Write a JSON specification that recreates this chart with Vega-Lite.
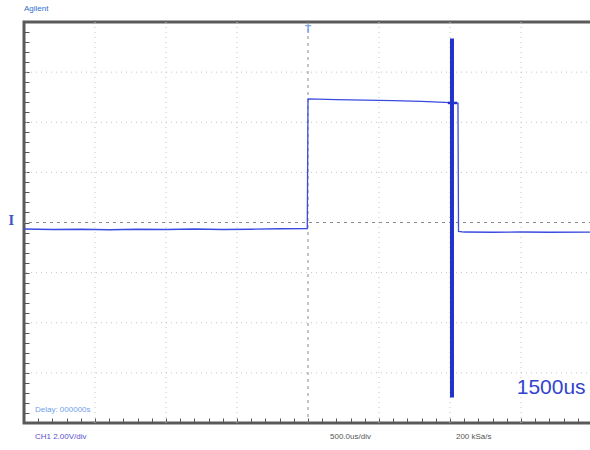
{
  "$schema": "https://vega.github.io/schema/vega-lite/v6.json",
  "autosize": {"type": "none"},
  "width": 568,
  "height": 401,
  "padding": {"left": 24, "top": 22, "right": 0, "bottom": 27},
  "background": "white",
  "config": {
    "view": {"stroke": "#5a5a5a", "strokeWidth": 3},
    "axis": {"labels": false, "domain": false, "grid": false, "ticks": true, "tickSize": -5, "tickColor": "#555", "tickWidth": 1}
  },
  "datasets": {
    "trace": [
      {"i": 0, "t": -2000, "v": -0.26},
      {"i": 1, "t": -1800, "v": -0.28},
      {"i": 2, "t": -1600, "v": -0.27},
      {"i": 3, "t": -1400, "v": -0.29},
      {"i": 4, "t": -1200, "v": -0.27},
      {"i": 5, "t": -1000, "v": -0.28},
      {"i": 6, "t": -800, "v": -0.26},
      {"i": 7, "t": -600, "v": -0.28},
      {"i": 8, "t": -400, "v": -0.27},
      {"i": 9, "t": -200, "v": -0.25},
      {"i": 10, "t": -5, "v": -0.24},
      {"i": 11, "t": 0, "v": 4.93},
      {"i": 12, "t": 200, "v": 4.9},
      {"i": 13, "t": 400, "v": 4.88},
      {"i": 14, "t": 600, "v": 4.86},
      {"i": 15, "t": 800, "v": 4.83},
      {"i": 16, "t": 1000, "v": 4.78},
      {"i": 17, "t": 1056, "v": 4.76},
      {"i": 18, "t": 1060, "v": -0.36},
      {"i": 19, "t": 1100, "v": -0.38},
      {"i": 20, "t": 1300, "v": -0.39},
      {"i": 21, "t": 1500, "v": -0.38},
      {"i": 22, "t": 1700, "v": -0.39},
      {"i": 23, "t": 2000, "v": -0.38}
    ],
    "gridx": [{"t": -1500}, {"t": -1000}, {"t": -500}, {"t": 500}, {"t": 1000}, {"t": 1500}],
    "gridy": [{"v": -6}, {"v": -4}, {"v": -2}, {"v": 2}, {"v": 4}, {"v": 6}],
    "labels": [
      {"t": -2000, "v": 8.5, "text": "Agilent", "kind": "brand"},
      {"t": -1923, "v": -7.5, "text": "Delay: 000000s", "kind": "delay"},
      {"t": -1923, "v": -8.56, "text": "CH1 2.00V/div", "kind": "ch"},
      {"t": 155, "v": -8.56, "text": "500.0us/div", "kind": "info"},
      {"t": 1042, "v": -8.56, "text": "200 kSa/s", "kind": "info"}
    ]
  },
  "encoding": {
    "x": {"field": "t", "type": "quantitative", "scale": {"domain": [-2000, 2000], "nice": false, "zero": false},
      "axis": {"orient": "bottom", "title": null, "values": [-1900,-1800,-1700,-1600,-1500,-1400,-1300,-1200,-1100,-1000,-900,-800,-700,-600,-500,-400,-300,-200,-100,0,100,200,300,400,500,600,700,800,900,1000,1100,1200,1300,1400,1500,1600,1700,1800,1900]}},
    "y": {"field": "v", "type": "quantitative", "scale": {"domain": [-8, 8], "nice": false, "zero": false},
      "axis": {"orient": "left", "title": null, "values": [-7.6,-7.2,-6.8,-6.4,-6,-5.6,-5.2,-4.8,-4.4,-4,-3.6,-3.2,-2.8,-2.4,-2,-1.6,-1.2,-0.8,-0.4,0,0.4,0.8,1.2,1.6,2,2.4,2.8,3.2,3.6,4,4.4,4.8,5.2,5.6,6,6.4,6.8,7.2,7.6]}}
  },
  "layer": [
    {
      "data": {"name": "gridx"},
      "mark": {"type": "rule", "color": "#c4c4c4", "strokeDash": [1, 4], "strokeWidth": 1},
      "encoding": {"y": null}
    },
    {
      "data": {"name": "gridy"},
      "mark": {"type": "rule", "color": "#c4c4c4", "strokeDash": [1, 4], "strokeWidth": 1},
      "encoding": {"x": null}
    },
    {
      "data": {"values": [{"t": 0}]},
      "mark": {"type": "rule", "color": "#8a8a8a", "strokeDash": [3, 4], "strokeWidth": 1},
      "encoding": {"y": null}
    },
    {
      "data": {"values": [{"v": 0}]},
      "mark": {"type": "rule", "color": "#8a8a8a", "strokeDash": [3, 4], "strokeWidth": 1},
      "encoding": {"x": null}
    },
    {
      "data": {"name": "trace"},
      "mark": {"type": "line", "color": "#3a4be0", "strokeWidth": 1.3, "interpolate": "linear"},
      "encoding": {"order": {"field": "i", "type": "quantitative"}}
    },
    {
      "data": {"values": [{"t": 1014, "v": 7.34, "v2": -6.98}]},
      "mark": {"type": "rule", "color": "#2233cc", "strokeWidth": 4},
      "encoding": {"y2": {"field": "v2"}}
    },
    {
      "data": {"values": [{"t": 985, "t2": 1050, "v": 4.77}]},
      "mark": {"type": "rule", "color": "#2233cc", "strokeWidth": 2.5},
      "encoding": {"x2": {"field": "t2"}}
    },
    {
      "data": {"name": "labels"},
      "mark": {"type": "text", "align": "left", "baseline": "middle", "font": "Liberation Sans", "fontSize": 8},
      "encoding": {
        "text": {"field": "text"},
        "color": {"field": "kind", "type": "nominal", "legend": null,
          "scale": {"domain": ["brand", "delay", "ch", "info"], "range": ["#2f6fd0", "#6fa0ee", "#5a4fd0", "#555555"]}},
        "fontWeight": {"condition": {"test": "datum.kind === 'brand'", "value": "bold"}, "value": "normal"}
      }
    },
    {
      "data": {"values": [{"t": 1955, "v": -6.6, "text": "1500us"}]},
      "mark": {"type": "text", "align": "right", "baseline": "middle", "font": "Liberation Sans", "fontSize": 21, "color": "#3344cc"},
      "encoding": {"text": {"field": "text"}}
    },
    {
      "data": {"values": [{"t": 0, "v": 7.7, "text": "T"}]},
      "mark": {"type": "text", "align": "center", "baseline": "middle", "font": "Liberation Sans", "fontSize": 10, "fontWeight": "bold", "color": "#7aa6e6"},
      "encoding": {"text": {"field": "text"}}
    },
    {
      "data": {"values": [{"t": -2090, "v": 0.05, "text": "I"}]},
      "mark": {"type": "text", "align": "center", "baseline": "middle", "font": "DejaVu Serif", "fontSize": 12, "fontWeight": "bold", "color": "#4455cc"},
      "encoding": {"text": {"field": "text"}}
    }
  ]
}
